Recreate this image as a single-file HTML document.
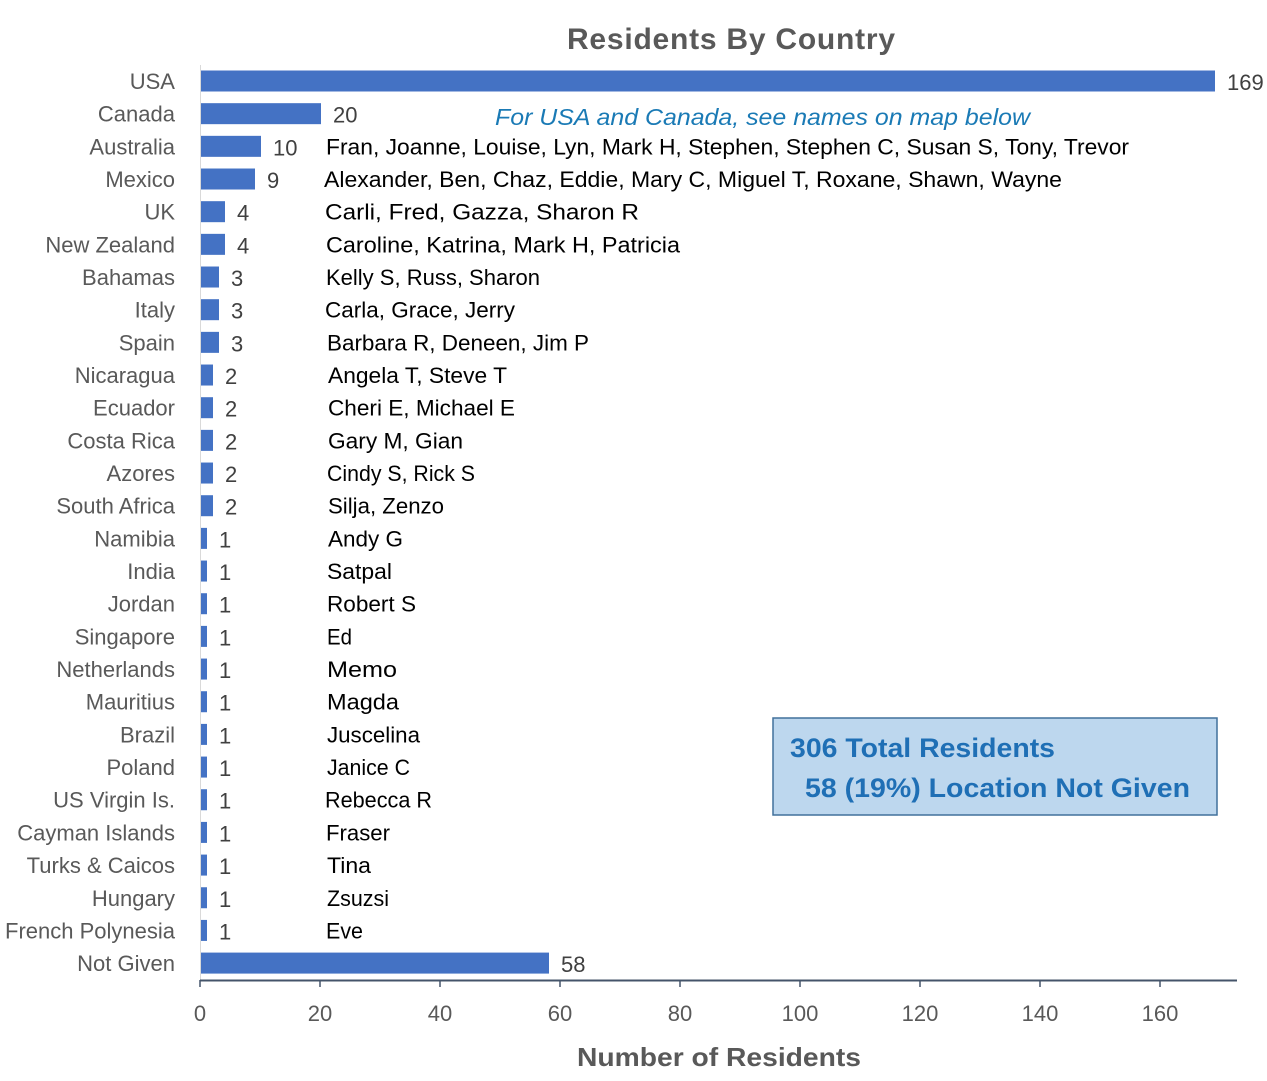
<!DOCTYPE html>
<html><head><meta charset="utf-8">
<style>
html,body{margin:0;padding:0;background:#fff;}
svg{display:block;font-family:"Liberation Sans",sans-serif;}
</style></head>
<body>
<svg id="c" width="1267" height="1081" viewBox="0 0 1267 1081" xmlns="http://www.w3.org/2000/svg"></svg>
<script>
const rows=[
["USA",169,"",0,0],["Canada",20,"",0,0],
["Australia",10,"Fran, Joanne, Louise, Lyn, Mark H, Stephen, Stephen C, Susan S, Tony, Trevor",326,803],
["Mexico",9,"Alexander, Ben, Chaz, Eddie, Mary C, Miguel T, Roxane, Shawn, Wayne",324,738],
["UK",4,"Carli, Fred, Gazza, Sharon R",325,314],
["New Zealand",4,"Caroline, Katrina, Mark H, Patricia",326,354],
["Bahamas",3,"Kelly S, Russ, Sharon",326,214],
["Italy",3,"Carla, Grace, Jerry",325,190],
["Spain",3,"Barbara R, Deneen, Jim P",327,262],
["Nicaragua",2,"Angela T, Steve T",328,179],
["Ecuador",2,"Cheri E, Michael E",328,187],
["Costa Rica",2,"Gary M, Gian",328,135],
["Azores",2,"Cindy S, Rick S",327,148],
["South Africa",2,"Silja, Zenzo",328,116],
["Namibia",1,"Andy G",328,75],
["India",1,"Satpal",327,65],
["Jordan",1,"Robert S",327,89],
["Singapore",1,"Ed",327,25],
["Netherlands",1,"Memo",327,70],
["Mauritius",1,"Magda",327,72],
["Brazil",1,"Juscelina",327,93],
["Poland",1,"Janice C",327,83],
["US Virgin Is.",1,"Rebecca R",325,107],
["Cayman Islands",1,"Fraser",326,64],
["Turks & Caicos",1,"Tina",327,44],
["Hungary",1,"Zsuzsi",327,62],
["French Polynesia",1,"Eve",326,37],
["Not Given",58,"",0,0]];
let s='';
s+='<text x="731" y="49" text-anchor="middle" font-size="30" font-weight="bold" fill="#595959" textLength="328">Residents By Country</text>';
s+='<line x1="200.5" y1="65" x2="200.5" y2="980" stroke="#d9d9d9" stroke-width="1"/>';
rows.forEach((r,i)=>{
 const y=81+i*32.67;
 s+=`<text x="175" y="${y+8}" text-anchor="end" font-size="22" fill="#595959">${r[0].replace('&','&amp;')}</text>`;
 const w=r[1]*6;
 s+=`<rect x="201" y="${y-10.5}" width="${w}" height="21" fill="#4472C4"/>`;
 s+=`<text x="${201+w+12}" y="${y+9}" font-size="22" fill="#404040">${r[1]}</text>`;
 if(r[2]) s+=`<text x="${r[3]}" y="${y+8}" font-size="22" fill="#000" textLength="${r[4]}" lengthAdjust="spacingAndGlyphs">${r[2]}</text>`;
});
s+='<text x="495" y="125" font-size="23" font-style="italic" fill="#1A7AB5" textLength="535" lengthAdjust="spacingAndGlyphs">For USA and Canada, see names on map below</text>';
s+='<line x1="200" y1="980.5" x2="1237" y2="980.5" stroke="#44546A" stroke-width="2"/>';
for(let v=0;v<=160;v+=20){const x=200+v*6;
 s+=`<line x1="${x}" y1="980" x2="${x}" y2="987" stroke="#44546A" stroke-width="1.5"/>`;
 s+=`<text x="${x}" y="1021" text-anchor="middle" font-size="22" fill="#595959">${v}</text>`;}
s+='<text x="719" y="1066" text-anchor="middle" font-size="26" font-weight="bold" fill="#595959" textLength="284" lengthAdjust="spacingAndGlyphs">Number of Residents</text>';
s+='<rect x="773" y="718" width="444" height="97" fill="#BDD7EE" stroke="#41719C" stroke-width="1.5"/>';
s+='<text x="790" y="757" font-size="27" font-weight="bold" fill="#1F6FB5" textLength="265" lengthAdjust="spacingAndGlyphs">306 Total Residents</text>';
s+='<text x="805" y="797" font-size="27" font-weight="bold" fill="#1F6FB5" textLength="385" lengthAdjust="spacingAndGlyphs">58 (19%) Location Not Given</text>';
document.getElementById('c').innerHTML=s;
</script>
</body></html>
